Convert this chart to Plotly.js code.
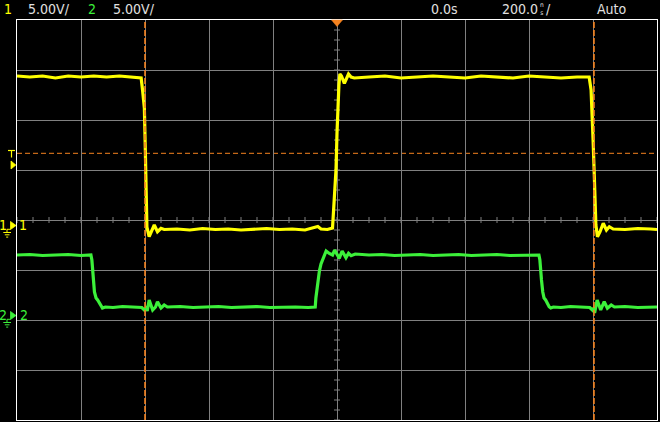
<!DOCTYPE html>
<html>
<head>
<meta charset="utf-8">
<script src="https://cdn.plot.ly/plotly-3.0.1.min.js"></script>
<style>
html,body{margin:0;padding:0;background:#000;}
#chart{width:660px;height:422px;}
</style>
</head>
<body>
<div id="chart"></div>
<script>
// ---- Data (time in ns, voltage in V) ----
const ch1Time = [-1000,-960,-920,-880,-840,-800,-760,-720,-680,-640,-612,-607,-604,-602,-599,-597,-594,-587,-581,-571,-561,-550,-540,
  -500,-460,-420,-380,-340,-300,-260,-220,-180,-140,-100,-65,-60,-50,-30,-14,-11,-7.5,-3,0,3,6,9,14,23,28,36,44,54,
  100,150,200,250,300,350,400,450,500,550,600,650,700,750,788,794,797,800,804,807,809,814,822,832,842,851,863,900,940,980,1000];
const ch1Volt = [14.9,14.8,14.9,14.7,14.9,14.8,14.9,14.8,14.9,14.8,14.7,13.3,12.5,11.7,7.5,1.8,-0.2,-1.17,-0.67,0.0,-0.67,-0.33,-0.45,
  -0.4,-0.5,-0.35,-0.45,-0.4,-0.5,-0.4,-0.35,-0.45,-0.4,-0.5,-0.2,-0.15,-0.4,-0.45,-0.3,1.3,3.0,5.6,9.2,12.4,14.0,15.1,14.9,14.17,14.57,15.1,14.8,14.7,
  14.8,14.9,14.7,14.8,14.9,14.8,14.7,14.9,14.8,14.7,14.9,14.8,14.7,14.8,14.8,13.5,11.5,8.7,5.0,2.0,0.0,-1.17,-0.67,0.17,-0.5,-0.17,-0.4,-0.45,-0.35,-0.4,-0.45];

const ch2Time = [-1000,-960,-920,-880,-840,-800,-769,-766,-764,-761,-758,-753,-748,-743,-738,-733,-724,-700,-670,-640,-610,
  -602,-596,-593,-587,-576,-567,-561,-550,-540,-530,-490,-450,-410,-370,-330,-290,-250,-210,-170,-130,-90,
  -68,-66,-61,-55,-50,-45,-40,-34,-24,-14,-7.5,-1,7,16,23,28,36,44,57,
  100,140,180,220,260,300,340,380,420,460,500,540,580,620,
  631,634,636,639,643,647,652,657,663,668,676,700,730,760,790,
  798,802,805,813,824,835,845,857,867,900,940,980,1000];
const ch2Volt = [6.0,6.05,5.95,6.0,6.05,5.95,6.0,5.5,4.2,3.5,2.3,1.7,1.5,1.2,0.83,0.7,0.8,0.75,0.85,0.8,0.75,
  0.5,0.7,0.4,1.5,0.5,0.8,1.33,0.7,1.0,0.8,0.85,0.75,0.8,0.85,0.75,0.8,0.85,0.75,0.8,0.8,0.75,
  0.8,1.7,3.2,4.4,5.1,5.5,5.85,6.4,6.15,6.0,6.5,6.17,5.67,6.4,6.0,5.73,6.17,5.93,6.1,
  6.0,6.05,5.95,6.0,6.05,5.95,6.0,6.05,5.95,6.0,6.05,5.95,6.0,6.0,
  6.0,5.5,4.2,3.5,2.3,1.7,1.5,1.2,0.83,0.7,0.8,0.75,0.85,0.8,0.75,
  0.5,0.7,0.2,1.5,0.5,1.33,0.67,1.0,0.8,0.85,0.75,0.8,0.8];

const headerLabels = {ch1:"1", ch1Scale:"5.00V/", ch2:"2", ch2Scale:"5.00V/", delay:"0.0s", timebase:"200.0", tbUnit:"n<br>s", tbSlash:"/", mode:"Auto"};
const cursorTimes = [-600, 803];
const triggerLevel = 7.17;   // ch1 volts

// ---- Styles ----
const YEL = "#ffff00", GRN = "#3cf03a", ORG = "#f5821f", GRID = "#808080", TXT = "#e0e0e0";
const FONT = "'DejaVu Sans Condensed', 'Liberation Sans Narrow', 'DejaVu Sans', sans-serif";

// pixel -> paper helpers (plot area: x 17..657, y 20..420)
const PX = p => (p - 17) / 640;
const PY = p => (420 - p) / 400;

const traces = [
  {x: ch1Time, y: ch1Volt, type: "scatter", mode: "lines", yaxis: "y",
   line: {color: YEL, width: 3.2}, hoverinfo: "skip"},
  {x: ch2Time, y: ch2Volt, type: "scatter", mode: "lines", yaxis: "y2",
   line: {color: GRN, width: 3.2}, hoverinfo: "skip"}
];

const shapes = [];
// center-axis minor ticks (horizontal center line, every 50 ns)
for (let t = -1000; t <= 1000; t += 50) {
  shapes.push({type: "line", layer: "between", xref: "x", yref: "y", ysizemode: "pixel", yanchor: 0.5,
    x0: t, x1: t, y0: -3, y1: 3, line: {color: GRID, width: 1}});
}
// center-axis minor ticks (vertical center line, every 1 V)
for (let v = -19.5; v <= 20.5; v += 1) {
  shapes.push({type: "line", layer: "between", xref: "x", yref: "y", xsizemode: "pixel", xanchor: 0,
    x0: -3, x1: 3, y0: v, y1: v, line: {color: GRID, width: 1}});
}
// trigger level
shapes.push({type: "line", layer: "between", xref: "paper", yref: "y", x0: 0, x1: 1, y0: triggerLevel, y1: triggerLevel,
  line: {color: ORG, width: 1, dash: "5px,3px"}});
// time cursors
cursorTimes.forEach(t => shapes.push({type: "line", layer: "above", xref: "x", yref: "paper", x0: t, x1: t, y0: 0, y1: 1,
  line: {color: ORG, width: 1.6, dash: "6px,2px"}}));

function pathPx(pts, close) {
  return "M" + pts.map(p => PX(p[0]) + "," + PY(p[1])).join(" L") + (close ? " Z" : "");
}
// trigger position marker at top
shapes.push({type: "path", xref: "paper", yref: "paper", layer: "above",
  path: pathPx([[331.5, 20], [342.5, 20], [337, 26.5]], true), fillcolor: ORG, line: {color: ORG, width: 0.5}});
// "T" trigger level marker
shapes.push({type: "line", xref: "paper", yref: "paper", x0: PX(8), x1: PX(15), y0: PY(150.5), y1: PY(150.5), line: {color: YEL, width: 1.2}});
shapes.push({type: "line", xref: "paper", yref: "paper", x0: PX(11.5), x1: PX(11.5), y0: PY(150.5), y1: PY(157.5), line: {color: YEL, width: 1.2}});
shapes.push({type: "path", xref: "paper", yref: "paper",
  path: pathPx([[11, 161], [11, 169], [15.8, 165]], true), fillcolor: YEL, line: {color: YEL, width: 0.8}});

// channel ground markers
function groundMarker(yc, col) {
  shapes.push({type: "path", xref: "paper", yref: "paper",
    path: pathPx([[10.5, yc - 4], [10.5, yc + 4], [16, yc]], true), fillcolor: col, line: {color: col, width: 0.8}});
  shapes.push({type: "line", xref: "paper", yref: "paper", x0: PX(7), x1: PX(10.5), y0: PY(yc + 3.8), y1: PY(yc + 3.8), line: {color: col, width: 1}});
  shapes.push({type: "line", xref: "paper", yref: "paper", x0: PX(7), x1: PX(7), y0: PY(yc + 3.8), y1: PY(yc + 7), line: {color: col, width: 1}});
  shapes.push({type: "line", xref: "paper", yref: "paper", x0: PX(3.3), x1: PX(11), y0: PY(yc + 7), y1: PY(yc + 7), line: {color: col, width: 1}});
  shapes.push({type: "line", xref: "paper", yref: "paper", x0: PX(4.8), x1: PX(9.5), y0: PY(yc + 9.3), y1: PY(yc + 9.3), line: {color: col, width: 1}});
  shapes.push({type: "line", xref: "paper", yref: "paper", x0: PX(6.2), x1: PX(8.2), y0: PY(yc + 11.6), y1: PY(yc + 11.6), line: {color: col, width: 1}});
}
groundMarker(225.5, YEL);
groundMarker(315.5, GRN);

function ann(text, xpx, ypx, col, size, xanchor) {
  return {text: text, xref: "paper", yref: "paper", x: PX(xpx), y: PY(ypx), xanchor: xanchor || "left", yanchor: "middle",
    showarrow: false, font: {family: FONT, size: size, color: col}, borderpad: 0};
}
const annotations = [
  ann(headerLabels.ch1, 7.5, 9, YEL, 14, "center"),
  ann(headerLabels.ch1Scale, 27, 9, TXT, 14),
  ann(headerLabels.ch2, 91.5, 9, GRN, 14, "center"),
  ann(headerLabels.ch2Scale, 112, 9, TXT, 14),
  ann(headerLabels.delay, 430, 9, TXT, 14),
  ann(headerLabels.timebase, 501, 9, TXT, 14),
  ann(headerLabels.tbUnit, 541.5, 9, TXT, 6.5, "center"),
  ann(headerLabels.tbSlash, 545, 9, TXT, 14),
  ann(headerLabels.mode, 595.5, 9, TXT, 14),
  ann("1", 2.5, 224.5, YEL, 14, "center"),
  ann("1", 23, 224.5, YEL, 14, "center"),
  ann("2", 2.5, 314.5, GRN, 14, "center"),
  ann("2", 23.5, 314.5, GRN, 14, "center")
];

const layout = {
  width: 660, height: 422,
  margin: {l: 17, r: 3, t: 20, b: 2, pad: 0},
  paper_bgcolor: "#000", plot_bgcolor: "#000",
  showlegend: false,
  xaxis: {range: [-1000, 1000], tick0: -1000, dtick: 200, showgrid: true, gridcolor: GRID, gridwidth: 1,
    showline: true, linecolor: "#ffffff", linewidth: 1.2, mirror: true, zeroline: false, showticklabels: false, ticks: "", fixedrange: true},
  yaxis: {range: [-19.5, 20.5], tick0: 0.5, dtick: 5, showgrid: true, gridcolor: GRID, gridwidth: 1,
    showline: true, linecolor: "#ffffff", linewidth: 1.2, mirror: true, zeroline: false, showticklabels: false, ticks: "", fixedrange: true},
  yaxis2: {range: [-10.5, 29.5], overlaying: "y", visible: false, showgrid: false, zeroline: false, fixedrange: true},
  shapes: shapes,
  annotations: annotations
};

Plotly.newPlot("chart", traces, layout, {displayModeBar: false, staticPlot: true});
</script>
</body>
</html>
